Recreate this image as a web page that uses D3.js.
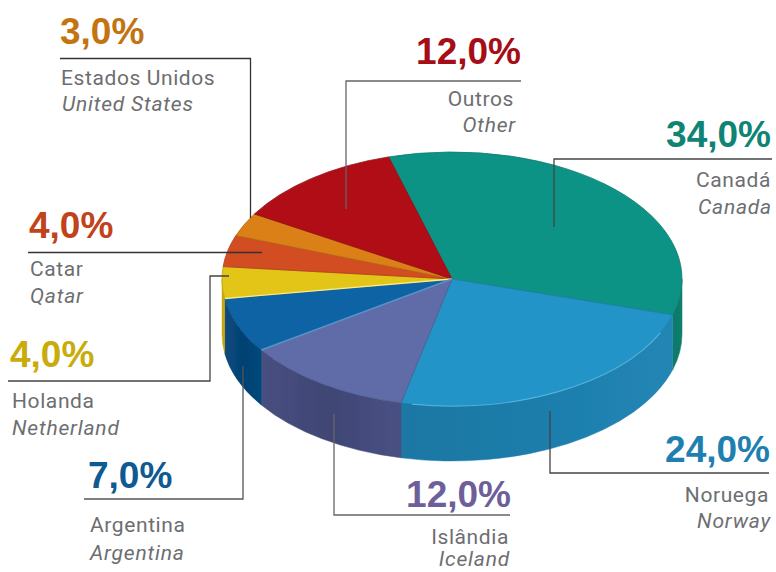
<!DOCTYPE html>
<html><head><meta charset="utf-8">
<script src="https://cdn.jsdelivr.net/npm/d3@7/dist/d3.min.js"></script>
<style>html,body{margin:0;padding:0;background:#fff}svg{display:block}</style>
</head><body><svg id="c" width="776" height="572"></svg>
<script>
const namesPt = ["Canadá","Noruega","Islândia","Argentina","Holanda","Catar","Estados Unidos","Outros"];
const namesEn = ["Canada","Norway","Iceland","Argentina","Netherland","Qatar","United States","Other"];
const shares = [34,24,12,7,4,4,3,12];
const topColors = ["#0f9385","#2394c8","#5f6ca8","#0e64a4","#e2c516","#d24d22","#da8015","#b00d14"];
const wallLeft = ["#0a7a6b","#1a77a3","#484f80","#0a4a80","#c9a80e","#b04018","#b86c10","#900a10"];
const wallMid = ["#0a7a6b","#1e7dab","#3f4674","#044272","#c9a80e","#b04018","#b86c10","#900a10"];
const wallRight = ["#0a8070","#2186b5","#4a5183","#04487c","#b8980c","#b04018","#b86c10","#900a10"];
const valueColors = ["#0f8475","#1f7fb0","#6e5f9a","#0f5a90","#c9ab0c","#c0431b","#c3730f","#a50d17"];
// label layout: [percent x, percent baseline, pt x, pt baseline, en x, en baseline, anchor]
const labelLayout = [
 [771,147,771,187,772,214,"end"],
 [770,462,769,502,771,528,"end"],
 [511,507,509,544,510,566,"end"],
 [88,488,90,532,90,560,"start"],
 [10,367,12,408,12,435,"start"],
 [29,238,30,276,30,303,"start"],
 [60,44,61,85,62,111,"start"],
 [521,64,514,106,516,132,"end"]];
const leaderLayout = [
 [[772,159],[554,159],[554,227]],
 [[550,411],[550,473],[769,473]],
 [[334,414],[334,515],[510,515]],
 [[243,366],[243,499],[84,499]],
 [[229,276],[210,276],[210,381],[8,381]],
 [[28,252.5],[262,252.5]],
 [[60,58.5],[250.5,58.5],[250.5,218]],
 [[521,81],[346,81],[346,209]]];
const leaderColors = ["#444","#444","#666","#555","#444","#333","#333","#666"];

const svg = d3.select("#c");
const cx=452, cy=279, rx=230, ry=127, depth=55;
const deg=Math.PI/180;
const sx=d3.scaleLinear().domain([-1,1]).range([cx-rx,cx+rx]);
const sy=d3.scaleLinear().domain([-1,1]).range([cy-ry,cy+ry]);
const pt=(a,dy=0)=>[sx(Math.sin(a)),sy(-Math.cos(a))+dy];
const pie=d3.pie().sort(null).value(d=>d).startAngle(-16*deg).endAngle(344*deg);
const arcs=pie(shares);
const defs=svg.append("defs");
const soft=defs.append("filter").attr("id","soft").attr("x","-5%").attr("y","-5%").attr("width","110%").attr("height","110%");
soft.append("feGaussianBlur").attr("stdDeviation",0.5);
arcs.forEach((d,i)=>{
  const g=defs.append("linearGradient").attr("id","w"+i);
  g.append("stop").attr("offset","0").attr("stop-color",wallLeft[i]);
  g.append("stop").attr("offset",".5").attr("stop-color",wallMid[i]);
  g.append("stop").attr("offset","1").attr("stop-color",wallRight[i]);
});
const pie3=svg.append("g").attr("filter","url(#soft)");
// side walls: only the front half (90deg..270deg) is visible
arcs.forEach((d,i)=>{
  const a0=Math.max(d.startAngle,90*deg), a1=Math.min(d.endAngle,270*deg);
  if(a1<=a0) return;
  const [x0,y0]=pt(a0),[x1,y1]=pt(a1);
  pie3.append("path").attr("fill",`url(#w${i})`).attr("stroke",wallMid[i]).attr("stroke-width",.5)
   .attr("d",`M${x0},${y0}A${rx},${ry} 0 0 1 ${x1},${y1}L${x1},${y1+depth}A${rx},${ry} 0 0 0 ${x0},${y0+depth}Z`);
});
// top faces
const sliceArc=d3.arc().innerRadius(0).outerRadius(rx);
const topFaces=pie3.append("g").attr("transform",`translate(${cx},${cy}) scale(1,${ry/rx})`);
topFaces.selectAll("path").data(arcs).join("path")
  .attr("d",sliceArc).attr("fill",(d,i)=>topColors[i])
  .attr("stroke",(d,i)=>d3.color(topColors[i]).darker(.5)).attr("stroke-width",.8).attr("vector-effect","non-scaling-stroke");
// highlights along slice edges and front rim
const edge=(i,col,w)=>{const [x,y]=pt(arcs[i].endAngle);pie3.append("line").attr("x1",cx).attr("y1",cy).attr("x2",x).attr("y2",y).attr("stroke",col).attr("stroke-width",w);};
edge(3,"#fbe98a",1.4); edge(2,"#5c92cc",1.6);
const rim=(i,a0d,a1d,col)=>{const [x0,y0]=pt(a0d*deg),[x1,y1]=pt(a1d*deg);
 pie3.append("path").attr("fill","none").attr("stroke",col).attr("stroke-width",1.2).attr("d",`M${x0},${y0}A${rx},${ry} 0 0 1 ${x1},${y1}`);};
rim(1,115,190,"#4fb3de");
// leaders
const leaderLine=d3.line();
svg.selectAll("path.leader").data(leaderLayout).join("path").attr("class","leader")
  .attr("d",d=>leaderLine(d)).attr("fill","none").attr("stroke",(d,i)=>leaderColors[i]).attr("stroke-width",1.3);
// labels
const F="Roboto, 'Liberation Sans', sans-serif";
shares.forEach((v,i)=>{
  const L=labelLayout[i];
  svg.append("text").attr("x",L[0]).attr("y",L[1]).attr("text-anchor",L[6]).attr("font-family","'Liberation Sans', Arial, sans-serif")
    .attr("font-weight",700).attr("font-size",37).attr("fill",valueColors[i]).text(d3.format(".1f")(v).replace(".",",")+"%");
  svg.append("text").attr("x",L[2]).attr("y",L[3]).attr("text-anchor",L[6]).attr("font-family",F)
    .attr("font-size",21).attr("letter-spacing",.6).attr("fill","#6d6e71").text(namesPt[i]);
  svg.append("text").attr("x",L[4]).attr("y",L[5]).attr("text-anchor",L[6]).attr("font-family",F)
    .attr("font-style","italic").attr("font-size",21).attr("letter-spacing",.8).attr("fill","#6d6e71").text(namesEn[i]);
});
</script></body></html>
